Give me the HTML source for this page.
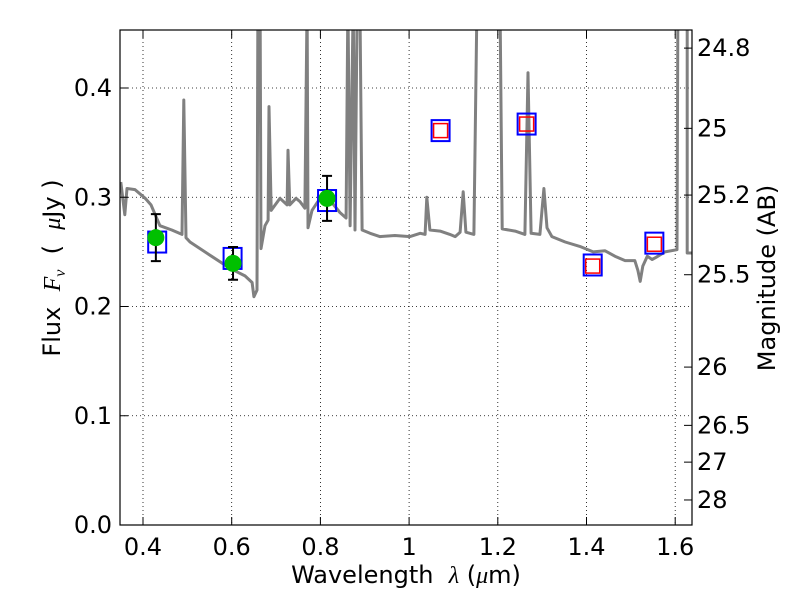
<!DOCTYPE html>
<html><head><meta charset="utf-8"><style>
body{margin:0;background:#fff;}
svg text{font-family:"DejaVu Sans","Liberation Sans",sans-serif;font-size:24px;fill:#000;white-space:pre;}
</style></head><body>
<svg id="chart" width="800" height="600" xmlns="http://www.w3.org/2000/svg">
<defs><clipPath id="clip"><rect x="120" y="30" width="572" height="495"/></clipPath></defs>
<rect x="0" y="0" width="800" height="600" fill="#fff"/>
<g id="grid"></g>
<g id="plot" clip-path="url(#clip)"></g>
<rect x="120" y="30" width="572" height="495" fill="none" stroke="#000" stroke-width="1.2"/>
<g id="ticks"></g>
<text x="406" y="583" text-anchor="middle">Wavelength&#160;&#160;<tspan font-family="Liberation Serif" font-style="italic">λ</tspan> (<tspan font-family="Liberation Serif" font-style="italic">μ</tspan>m)</text>
<text transform="translate(60,268) rotate(-90)" text-anchor="middle">Flux&#160;&#160;<tspan font-family="Liberation Serif" font-style="italic">F<tspan font-size="16" dy="5">ν</tspan></tspan><tspan dy="-5">&#160;&#160;(&#160;&#160;</tspan><tspan font-family="Liberation Serif" font-style="italic">μ</tspan>Jy )</text>
<text transform="translate(775,278) rotate(-90)" text-anchor="middle">Magnitude (AB)</text>
</svg>
<script>
const specWave=[0.350,0.359,0.364,0.382,0.405,0.418,0.438,0.465,0.488,0.492,0.497,0.506,0.551,0.596,0.630,0.646,0.650,0.657,0.659,0.664,0.666,0.675,0.682,0.684,0.689,0.709,0.725,0.727,0.731,0.745,0.754,0.765,0.770,0.772,0.781,0.799,0.822,0.844,0.858,0.862,0.867,0.874,0.878,0.883,0.889,0.894,0.912,0.934,0.968,1.002,1.025,1.036,1.040,1.047,1.070,1.092,1.104,1.115,1.122,1.128,1.146,1.153,1.205,1.210,1.239,1.261,1.268,1.275,1.295,1.304,1.311,1.322,1.352,1.385,1.415,1.442,1.464,1.487,1.509,1.516,1.521,1.527,1.537,1.548,1.557,1.577,1.604,1.606,1.627,1.627,1.645];
const specFlux=[0.314,0.284,0.308,0.307,0.299,0.293,0.274,0.270,0.266,0.389,0.263,0.259,0.247,0.235,0.228,0.222,0.209,0.215,0.48,0.48,0.253,0.274,0.279,0.383,0.288,0.299,0.293,0.343,0.293,0.299,0.296,0.290,0.48,0.272,0.288,0.299,0.297,0.286,0.281,0.48,0.274,0.48,0.270,0.48,0.48,0.270,0.267,0.264,0.265,0.264,0.267,0.266,0.300,0.270,0.269,0.266,0.264,0.268,0.305,0.268,0.266,0.48,0.48,0.271,0.269,0.266,0.414,0.267,0.266,0.308,0.272,0.264,0.259,0.255,0.250,0.251,0.246,0.242,0.242,0.233,0.223,0.237,0.246,0.243,0.245,0.250,0.252,0.48,0.48,0.249,0.249];
const obsWave=[0.429,0.603,0.815];
const obsFlux=[0.263,0.2395,0.299];
const obsErr=[0.0215,0.015,0.0206];
const boxWave=[0.432,0.602,0.815,1.071,1.265,1.414,1.553];
const boxFlux=[0.259,0.244,0.297,0.361,0.367,0.238,0.258];
const redWave=[1.071,1.265,1.414,1.553];
const redFlux=[0.361,0.367,0.237,0.257];
const xTicks=[0.4,0.6,0.8,1.0,1.2,1.4,1.6];
const xTickLabels=["0.4","0.6","0.8","1","1.2","1.4","1.6"];
const yTicks=[0.0,0.1,0.2,0.3,0.4];
const yTickLabels=["0.0","0.1","0.2","0.3","0.4"];
const magTicks=[24.8,25,25.2,25.5,26,26.5,27,28];
const magLabels=["24.8","25","25.2","25.5","26","26.5","27","28"];

const X=v=>143+(v-0.4)*443.5;
const Y=v=>525-v*1092.5;
const NS="http://www.w3.org/2000/svg";
function mk(tag,attrs,parent){const e=document.createElementNS(NS,tag);for(const k in attrs)e.setAttribute(k,attrs[k]);parent.appendChild(e);return e;}
const grid=document.getElementById('grid'),plot=document.getElementById('plot'),ticks=document.getElementById('ticks');

xTicks.forEach((v,i)=>{
  const g=mk('line',{x1:X(v),x2:X(v),y1:30,y2:525,stroke:'#000','stroke-width':0.8,'stroke-dasharray':'1,3'},grid);
  
  
  const t1=mk('line',{x1:X(v),x2:X(v),y1:525,y2:517,stroke:'#000'},ticks);
  
  
  const t2=mk('line',{x1:X(v),x2:X(v),y1:30,y2:38,stroke:'#000'},ticks);
  
  
  const l=mk('text',{x:X(v),y:555,'text-anchor':'middle'},ticks);l.textContent=xTickLabels[i];
  
  
});
yTicks.forEach((v,i)=>{
  if(v>0){const g=mk('line',{x1:120,x2:692,y1:Y(v),y2:Y(v),stroke:'#000','stroke-width':0.8,'stroke-dasharray':'1,3'},grid);
  
  }
  const t=mk('line',{x1:120,x2:128,y1:Y(v),y2:Y(v),stroke:'#000'},ticks);
  
  
  const l=mk('text',{x:112,y:Y(v)+8,'text-anchor':'end'},ticks);l.textContent=yTickLabels[i];
  
  
});
magTicks.forEach((m,i)=>{
  const y=Y(Math.pow(10,(23.9-m)/2.5));
  const t=mk('line',{x1:684,x2:692,y1:y,y2:y,stroke:'#000'},ticks);
  
  
  const l=mk('text',{x:697,y:y+8},ticks);l.textContent=magLabels[i];
  
  
});
const pts=specWave.map((w,i)=>X(w).toFixed(1)+','+Y(specFlux[i]).toFixed(1)).join(' ');
const sp=mk('polyline',{points:pts,fill:'none',stroke:'#808080','stroke-width':3,'stroke-linejoin':'round'},plot);


boxWave.forEach((w,i)=>{
  const b=mk('rect',{x:X(w)-9,y:Y(boxFlux[i])-10.5,width:18,height:21,fill:'none',stroke:'#0000ff','stroke-width':2},plot);
  
  
});
redWave.forEach((w,i)=>{
  const r=mk('rect',{x:X(w)-7,y:Y(redFlux[i])-7,width:14,height:14,fill:'none',stroke:'#ff0000','stroke-width':1.5},plot);
  
  
});
obsWave.forEach((w,i)=>{
  const x=X(w),y1=Y(obsFlux[i]+obsErr[i]),y2=Y(obsFlux[i]-obsErr[i]);
  const e=mk('path',{d:`M${x},${y1}V${y2}M${x-5},${y1}H${x+5}M${x-5},${y2}H${x+5}`,stroke:'#000','stroke-width':2,fill:'none'},plot);
  
  
  const c=mk('circle',{cx:x,cy:Y(obsFlux[i]),r:8.5,fill:'#00c000'},plot);
  
  
});
</script>
</body></html>
